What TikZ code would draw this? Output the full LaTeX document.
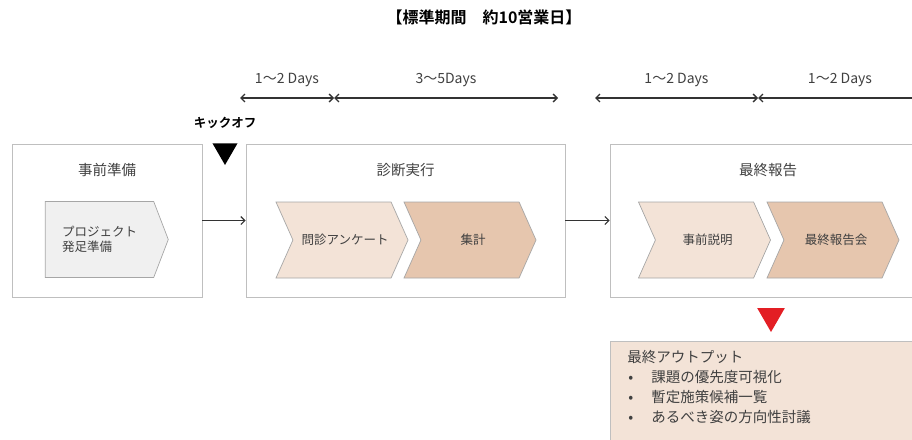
\documentclass[tikz,border=0pt]{standalone}
\usepackage{fontspec}
\setmainfont{Noto Sans CJK JP}[BoldFont={Noto Sans CJK JP Bold}]
\usetikzlibrary{positioning,shapes.symbols,shapes.geometric,arrows.meta}
\definecolor{txt}{HTML}{404040}
\definecolor{frame}{HTML}{BFBFBF}
\definecolor{lite}{HTML}{F3E3D7}
\definecolor{dark}{HTML}{E6C6AE}
\definecolor{pale}{HTML}{F0F0F0}
\definecolor{alert}{HTML}{E31E24}

\begin{document}
\begin{tikzpicture}[x=1pt,y=-1pt,
    phase/.style={draw=frame,line width=0.9pt,minimum height=153pt,minimum width=#1,inner sep=0pt},
    head/.style={text=txt,font=\fontsize{14.5}{17}\selectfont},
    stepbox/.style={signal,signal to=east,signal from=west,signal pointer angle=132,
        draw=black!35,line width=0.7pt,minimum width=132pt,minimum height=76pt,
        inner sep=0pt,text=txt,font=\fontsize{12.5}{15}\selectfont},
    span/.style={draw=black!80,line width=1.3pt,{Straight Barb[length=4pt,width=8pt]}-{Straight Barb[length=4pt,width=8pt]}},
    flow/.style={draw=black!80,line width=1.1pt,-{Straight Barb[length=4pt,width=8pt]}},
    days/.style={text=txt,font=\fontsize{14}{16}\selectfont,inner sep=0pt}]
    \useasboundingbox (0,0) rectangle (912,439);
    \clip (0,0) rectangle (912,439);

    % title
    \node (title) at (484,17) [font=\bfseries\fontsize{16}{18}\selectfont] {【標準期間　約10営業日】};

    % durations
    \coordinate (d0) at (240,98);
    \coordinate (d1) at (334,98);
    \coordinate (d2) at (558,98);
    \coordinate (d3) at (595,98);
    \coordinate (d4) at (758,98);
    \coordinate (d5) at (922,98);
    \draw[span] (d0) -- node[days,above=11pt] {1～2 Days} (d1);
    \draw[span] (d1) -- node[days,above=11pt] {3～5Days} (d2);
    \draw[span] (d3) -- node[days,above=11pt] {1～2 Days} (d4);
    \draw[span] (d4) -- node[days,above=11pt] {1～2 Days} (d5);

    % kick-off
    \node (kick) at (225,123) [font=\bfseries\fontsize{12.5}{15}\selectfont] {キックオフ};
    \node (kickmark) at (225,150.5) [regular polygon,regular polygon sides=3,shape border rotate=180,
        fill=black,minimum size=29pt,inner sep=0pt] {};

    % phases
    \node (b1) at (107,220.5) [phase=190pt] {};
    \node (b2) at (405.5,220.5) [phase=319pt] {};
    \node (b3) at (768,220.5) [phase=316pt] {};
    \node (t1) at (107,170) [head] {事前準備};
    \node (t2) at (405.5,170) [head] {診断実行};
    \node (t3) at (768,170) [head] {最終報告};

    \draw[flow] (b1) -- (b2);
    \draw[flow] (b2) -- (b3);

    % steps
    \node (p1) at (99.5,239.5) [stepbox,signal from=nowhere,signal pointer angle=138,fill=pale,
        minimum width=123pt,align=left] {プロジェクト\\発足準備};
    \node (c1) at (342,240) [stepbox,fill=lite] {\hspace{6pt}問診アンケート};
    \node (c2) at (470,240) [stepbox,fill=dark] {\hspace{6pt}集計};
    \node (c3) at (704.5,240) [stepbox,fill=lite] {\hspace{6pt}事前説明};
    \node (c4) at (833,240) [stepbox,fill=dark] {\hspace{6pt}最終報告会};

    % output
    \node (outmark) at (771,316) [regular polygon,regular polygon sides=3,shape border rotate=180,
        fill=alert,minimum size=32pt,inner sep=0pt] {};
    \node (out) at (610,341) [anchor=north west,draw=frame,line width=0.9pt,fill=lite,
        text width=282pt,inner xsep=17pt,inner ysep=9pt,align=left,
        text=txt,font=\fontsize{14.5}{20}\selectfont]
        {最終アウトプット\\
         \makebox[24pt][l]{\hspace{1pt}•}課題の優先度可視化\\
         \makebox[24pt][l]{\hspace{1pt}•}暫定施策候補一覧\\
         \makebox[24pt][l]{\hspace{1pt}•}あるべき姿の方向性討議\rule[-30pt]{0pt}{30pt}};
\end{tikzpicture}
\end{document}
